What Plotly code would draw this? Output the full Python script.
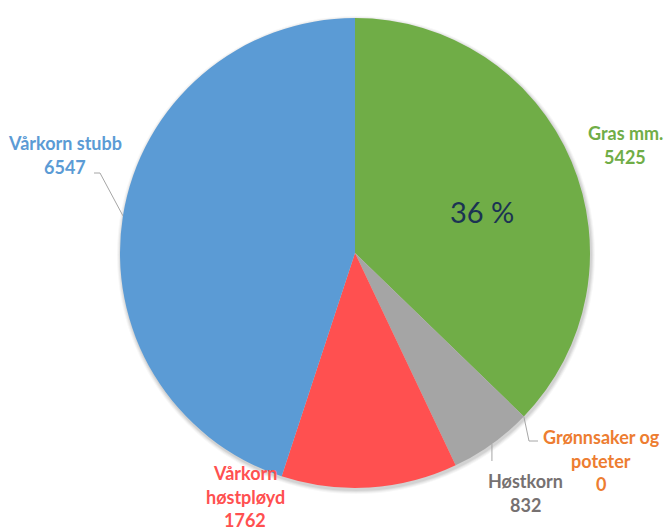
import math
import plotly.graph_objects as go

# Arealfordeling etter jordarbeiding
categories = ["Gras mm.", "Grønnsaker og poteter", "Høstkorn", "Vårkorn høstpløyd", "Vårkorn stubb"]
values = [5425, 0, 832, 1762, 6547]
label_lines = [["Gras mm."], ["Grønnsaker og", "poteter"], ["Høstkorn"], ["Vårkorn", "høstpløyd"], ["Vårkorn stubb"]]
slice_colors = ["#70AD47", "#ED7D31", "#A5A5A5", "#FF5050", "#5B9BD5"]
label_colors = ["#70AD47", "#ED7D31", "#767171", "#FF5050", "#5B9BD5"]
inner_text = "36 %"

W, H = 669, 531
CX, CY, R = 355, 253, 235  # pie centre and radius in pixels


def px(x, y):
    return x / W, 1 - y / H


def domain(cx, cy, r):
    return dict(x=[(cx - r) / W, (cx + r) / W], y=[1 - (cy + r) / H, 1 - (cy - r) / H])


fig = go.Figure()

# soft drop shadow under the pie
for extra, alpha in [(4, 0.03), (3, 0.04), (2, 0.05), (1, 0.06)]:
    fig.add_trace(go.Pie(
        values=[1], sort=False, textinfo="none", hoverinfo="skip", showlegend=False,
        marker=dict(colors=[f"rgba(0,0,0,{alpha})"], line=dict(width=0)),
        domain=domain(CX + 1, CY + 2, R + extra),
    ))

fig.add_trace(go.Pie(
    labels=categories,
    values=values,
    sort=False,
    direction="clockwise",
    rotation=0,
    marker=dict(colors=slice_colors, line=dict(width=0)),
    textinfo="none",
    hoverinfo="label+value",
    showlegend=False,
    domain=domain(CX, CY, R),
))

total = sum(values)
cum = 0
mid_angles = []
for v in values:
    mid_angles.append((cum + v / 2) / total * 2 * math.pi)
    cum += v


def edge(i):
    a = mid_angles[i]
    return CX + R * math.sin(a), CY - R * math.cos(a)


annotations = []
font_family = "Lato, Carlito, 'Open Sans', sans-serif"
LINE_GAP = 23.5

# label placement: centre x and first-line y, pixels
label_pos = [(625, 133), (601, 437), (525, 481), (245, 473), (65, 143)]
for i, (lx, ly) in enumerate(label_pos):
    lines = label_lines[i] + [f"{values[i]}"]
    for k, line in enumerate(lines):
        x, y = px(lx, ly + k * LINE_GAP)
        annotations.append(dict(
            x=x, y=y, xref="paper", yref="paper", text=f"<b>{line}</b>", showarrow=False,
            font=dict(family=font_family, size=18, color=label_colors[i]),
            align="center", xanchor="center", yanchor="middle",
        ))

# inner percentage
x, y = px(482, 212)
annotations.append(dict(
    x=x, y=y, xref="paper", yref="paper", text=inner_text, showarrow=False,
    font=dict(family=font_family, size=29, color="#1B3353"),
    xanchor="center", yanchor="middle",
))

line_style = dict(color="#A6A6A6", width=1)
shapes = []


def seg(p0, p1):
    x0, y0 = px(*p0)
    x1, y1 = px(*p1)
    shapes.append(dict(type="line", xref="paper", yref="paper",
                       x0=x0, y0=y0, x1=x1, y1=y1, line=line_style))


# leader lines from slice edge to label
e = edge(4)
seg(e, (100, 173))
seg((100, 173), (94, 173))

e = edge(1)
seg(e, (529, 441))
seg((529, 441), (538, 441))

e = edge(2)
seg(e, (e[0], 461))

fig.update_layout(
    width=W, height=H,
    margin=dict(l=0, r=0, t=0, b=0),
    paper_bgcolor="white",
    plot_bgcolor="white",
    annotations=annotations,
    shapes=shapes,
)

fig.write_html("out.html")
